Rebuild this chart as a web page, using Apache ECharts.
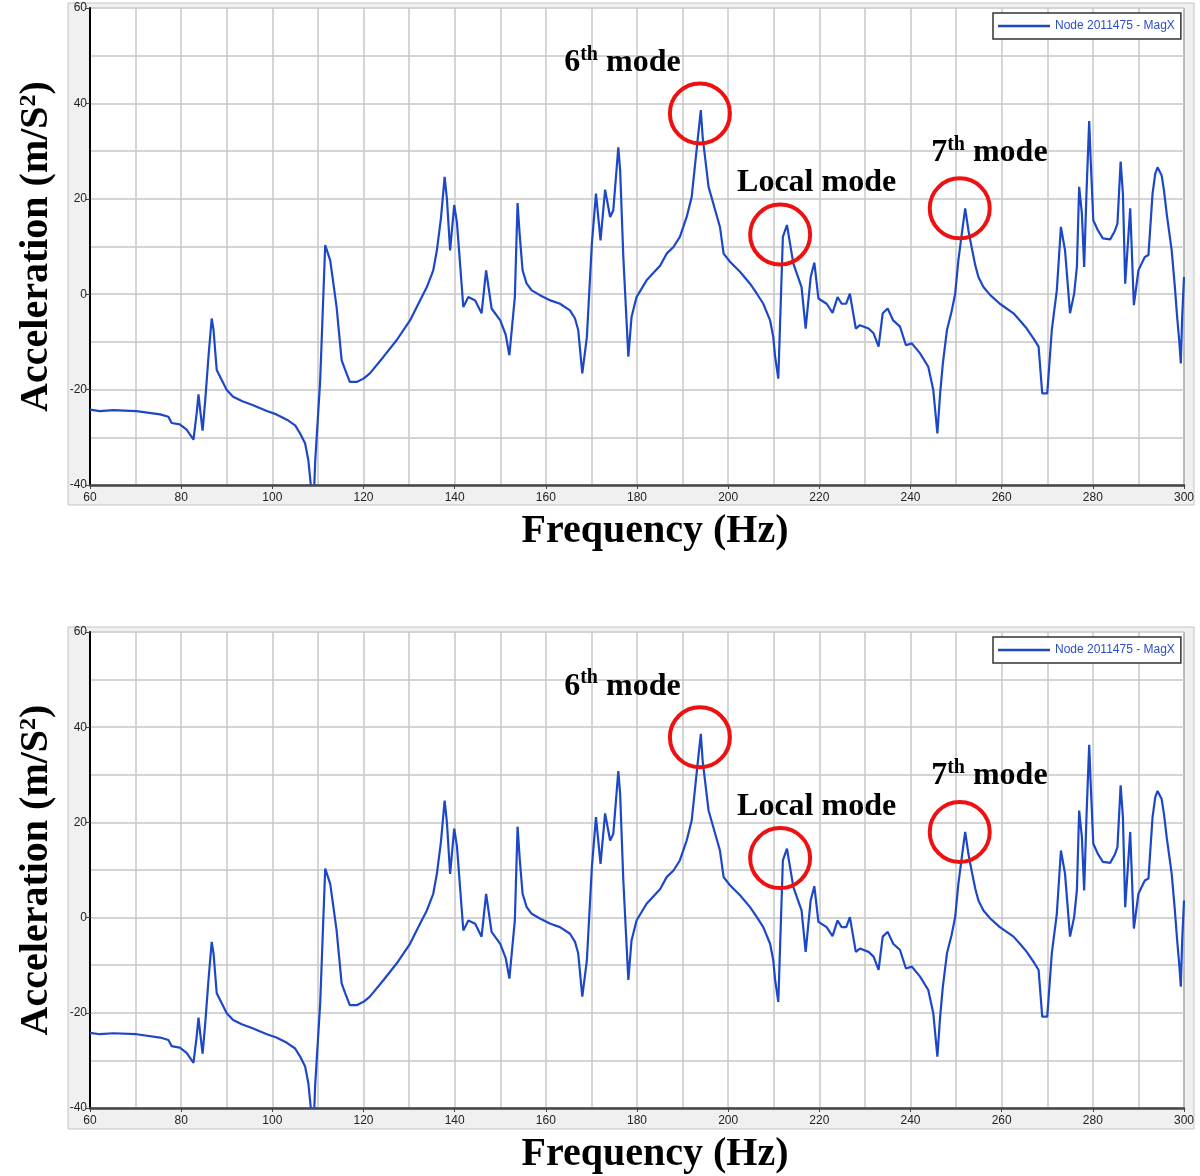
<!DOCTYPE html>
<html>
<head>
<meta charset="utf-8">
<title>Node 2011475 - MagX</title>
<script src="https://cdn.jsdelivr.net/npm/echarts@6/dist/echarts.min.js"></script>
<style>
    html, body { margin: 0; padding: 0; background: #fff; }
    #main { width: 1200px; height: 1176px; }
</style>
</head>
<body>
<div id="main"></div>
<script>
// 频率 (Hz)
var freq = [
    60, 62.2, 65.1, 70.2, 75.4, 77.2, 77.9, 79.7, 81.2, 82.7,
    83.4, 83.8, 84.2, 84.7, 85.3, 86.0, 86.7, 87.1, 87.8, 88.9,
    90.0, 91.4, 93.3, 95.8, 98.8, 100.9, 103.2, 105.0, 106.1, 107.2,
    107.9, 108.4, 108.9, 109.2, 109.4, 110.5, 111.6, 112.7, 114.1, 115.2,
    116.0, 117.0, 118.5, 120.0, 121.4, 124.4, 127.3, 130.2, 132.4, 133.9,
    135.3, 136.1, 137.0, 137.8, 138.3, 139.0, 139.9, 140.5, 141.9, 143.0,
    144.5, 145.9, 146.9, 148.1, 150.0, 151.2, 152.0, 153.2, 153.8, 154.3,
    154.9, 155.8, 156.9, 158.7, 161.0, 163.1, 165.3, 166.4, 167.1, 168.0,
    169.0, 170.1, 171.0, 172.0, 173.0, 174.1, 174.8, 175.9, 176.3, 177.0,
    178.1, 178.8, 179.9, 182.1, 185.1, 186.5, 188.0, 189.4, 190.9, 192.0,
    193.3, 194.0, 194.4, 195.7, 198.2, 199.0, 200.4, 202.6, 204.8, 206.3,
    207.7, 209.2, 209.9, 210.3, 211.0, 212.0, 212.9, 214.3, 216.1, 217.0,
    218.1, 218.9, 219.8, 221.6, 222.9, 224.0, 224.9, 225.9, 226.7, 228.0,
    228.9, 230.8, 231.9, 233.0, 233.9, 235.0, 236.2, 237.7, 239.0, 240.3,
    242.1, 243.9, 245.0, 245.9, 246.5, 247.1, 248.0, 249.0, 249.8, 250.5,
    251.3, 252.0, 252.7, 253.4, 254.2, 254.9, 256.0, 257.5, 259.6, 262.6,
    264.0, 265.5, 267.0, 268.1, 268.9, 270.0, 271.0, 272.1, 273.0, 273.9,
    275.0, 275.9, 276.5, 277.0, 277.6, 278.1, 278.6, 279.2, 279.5, 280.1,
    281.1, 282.2, 283.8, 284.8, 285.4, 286.1, 286.6, 287.1, 288.2, 289.0,
    290.0, 291.4, 292.2, 293.1, 293.7, 294.2, 295.1, 295.6, 296.2, 297.3,
    298.0, 298.5, 299.0, 299.3, 299.6, 300
];

// 加速度 (m/S2)
var accel = [
    -24.2, -24.5, -24.3, -24.5, -25.2, -25.7, -27.0, -27.3, -28.4, -30.5,
    -25.0, -21.0, -24.5, -28.6, -22.0, -13.0, -5.1, -7.5, -15.9, -18.0,
    -20.1, -21.5, -22.4, -23.3, -24.5, -25.2, -26.3, -27.5, -29.2, -31.3,
    -34.8, -39.6, -48, -48, -35.1, -18.0, 10.3, 7.1, -2.7, -13.8,
    -15.9, -18.4, -18.4, -17.7, -16.6, -13.1, -9.6, -5.5, -1.3, 1.5,
    5.0, 9.2, 16, 24.6, 20, 9.2, 18.7, 15, -2.7, -0.6,
    -1.3, -4.0, 5.0, -3.0, -5.5, -8.5, -12.8, -0.6, 19.1, 12,
    5.0, 2.2, 0.8, -0.2, -1.3, -2.0, -3.4, -5.1, -7.5, -16.6,
    -9.0, 10.6, 21.1, 11.3, 21.9, 16.2, 17.6, 30.8, 26.0, 7.8,
    -13.1, -4.8, -0.6, 2.9, 6.0, 8.5, 9.9, 12.0, 16.2, 20.4,
    32.3, 38.6, 33.0, 22.5, 14.1, 8.5, 6.8, 4.7, 2.2, 0.1,
    -2.0, -5.5, -9.0, -13.1, -17.7, 12.0, 14.5, 6.4, 1.5, -7.2,
    3.6, 6.6, -0.9, -2.0, -3.9, -0.6, -2.0, -2.0, 0.1, -7.2,
    -6.5, -7.2, -8.2, -11.0, -4.0, -3.0, -5.5, -6.8, -10.7, -10.3,
    -12.4, -15.2, -20.1, -29.2, -20.8, -14.5, -7.5, -3.7, 0.1, 7.1,
    13, 18.0, 13.4, 9.9, 6.1, 3.6, 1.5, -0.2, -2.0, -4.0,
    -5.5, -7.2, -9.3, -11.0, -20.8, -20.8, -7.5, 0.8, 14.1, 9.2,
    -4.0, 0.1, 5.7, 22.5, 16.9, 5.7, 21.1, 36.3, 28.8, 15.5,
    13.4, 11.7, 11.5, 13.2, 14.8, 27.8, 21.1, 2.2, 18.0, -2.3,
    5.0, 7.8, 8.2, 21.1, 25.3, 26.6, 24.9, 21.8, 16.9, 9.2,
    1.5, -4.8, -10.3, -14.5, -4.8, 3.6
];

// 模态标注
var modeLabels = ['{n|6}{s|th}{n| mode}', '{n|Local mode}', '{n|7}{s|th}{n| mode}'];
var modeLabelX = [176.8, 219.4, 257.3];
var modeLabelY = [48.6, 23.3, 29.7];
var circleX = [193.8, 211.4, 250.8];
var circleY = [37.9, 12.5, 18.0];

var seriesName = 'Node 2011475 - MagX';

var serif = 'Liberation Serif, Times New Roman, serif';
var sans = 'Liberation Sans, Arial, sans-serif';
var plotTops = [8, 632];
var plotHeight = 477;

function buildPoints() {
    return freq.map(function (f, i) { return [f, accel[i]]; });
}

function buildMarks() {
    var data = [];
    for (var i = 0; i < circleX.length; i++) {
        data.push({
            coord: [circleX[i], circleY[i]],
            symbol: 'circle',
            symbolSize: 60,
            itemStyle: { color: 'transparent', borderColor: '#ee1111', borderWidth: 4 },
            label: { show: false }
        });
        data.push({
            coord: [modeLabelX[i], modeLabelY[i]],
            symbol: 'circle',
            symbolSize: 1,
            itemStyle: { color: 'transparent' },
            label: {
                show: true, position: 'inside', formatter: modeLabels[i],
                rich: {
                    n: { fontFamily: serif, fontWeight: 'bold', fontSize: 32, color: '#000', lineHeight: 36 },
                    s: { fontFamily: serif, fontWeight: 'bold', fontSize: 20, color: '#000', lineHeight: 20, verticalAlign: 'top' }
                }
            }
        });
    }
    return data;
}

var grids = [], xAxes = [], yAxes = [], series = [], legends = [], panels = [];

for (var k = 0; k < 2; k++) {
    var plotTop = plotTops[k];
    // 灰色底板
    panels.push({
        type: 'rect',
        z: -10,
        shape: { x: 68, y: plotTop - 5, width: 1126, height: plotHeight + 25 },
        style: { fill: '#f0f0f0', stroke: '#c4c4c4', lineWidth: 1 }
    });
    grids.push({
        left: 90, width: 1094, top: plotTop, height: plotHeight,
        show: true, backgroundColor: '#fff', borderColor: '#222', borderWidth: 1
    });
    xAxes.push({
        gridIndex: k,
        type: 'value',
        min: 60, max: 300, interval: 20,
        name: 'Frequency (Hz)',
        nameLocation: 'middle',
        nameGap: 27,
        nameTextStyle: { fontFamily: serif, fontWeight: 'bold', fontSize: 40, color: '#000', padding: [0, 0, 0, 36] },
        axisLine: { show: true, onZero: false, lineStyle: { color: '#444', width: 2.5 } },
        axisTick: { show: true, length: 4, lineStyle: { color: '#444' } },
        axisLabel: { fontFamily: sans, fontSize: 12, color: '#222', margin: 7 },
        splitLine: { show: true, lineStyle: { color: '#c8c8c8', width: 1.5 } },
        minorTick: { show: false, splitNumber: 2 },
        minorSplitLine: { show: true, lineStyle: { color: '#c8c8c8', width: 1.5 } }
    });
    yAxes.push({
        gridIndex: k,
        type: 'value',
        min: -40, max: 60, interval: 20,
        name: 'Acceleration (m/S{sup|2})',
        nameLocation: 'middle',
        nameGap: 33,
        nameTextStyle: {
            fontFamily: serif, fontWeight: 'bold', fontSize: 40, color: '#000',
            rich: { sup: { fontFamily: serif, fontWeight: 'bold', fontSize: 24, color: '#000', verticalAlign: 'top' } }
        },
        axisLine: { show: true, onZero: false, lineStyle: { color: '#000', width: 2 } },
        axisTick: { show: true, length: 4, lineStyle: { color: '#444' } },
        axisLabel: { fontFamily: sans, fontSize: 12, color: '#222', margin: 3 },
        splitLine: { show: true, lineStyle: { color: '#d4d4d4', width: 2 } },
        minorTick: { show: false, splitNumber: 2 },
        minorSplitLine: { show: true, lineStyle: { color: '#d4d4d4', width: 2 } }
    });
    series.push({
        name: seriesName,
        type: 'line',
        xAxisIndex: k,
        yAxisIndex: k,
        data: buildPoints(),
        symbol: 'none',
        clip: true,
        lineStyle: { color: '#1c48c8', width: 2.2 },
        itemStyle: { color: '#1c48c8' },
        markPoint: { silent: true, animation: false, data: buildMarks() }
    });
    legends.push({
        data: [{ name: seriesName, icon: 'rect' }],
        left: 993, top: plotTop + 5,
        orient: 'horizontal',
        backgroundColor: '#fff',
        borderColor: '#333', borderWidth: 1.5,
        padding: [6, 6, 6, 5],
        itemWidth: 52, itemHeight: 2.5, itemGap: 5,
        selectedMode: false,
        textStyle: { fontFamily: sans, fontSize: 12, color: '#2a4fc0', lineHeight: 14 }
    });
}

var chart = echarts.init(document.getElementById('main'));
chart.setOption({
    animation: false,
    backgroundColor: '#fff',
    graphic: panels,
    legend: legends,
    grid: grids,
    xAxis: xAxes,
    yAxis: yAxes,
    series: series
});
</script>
</body>
</html>
